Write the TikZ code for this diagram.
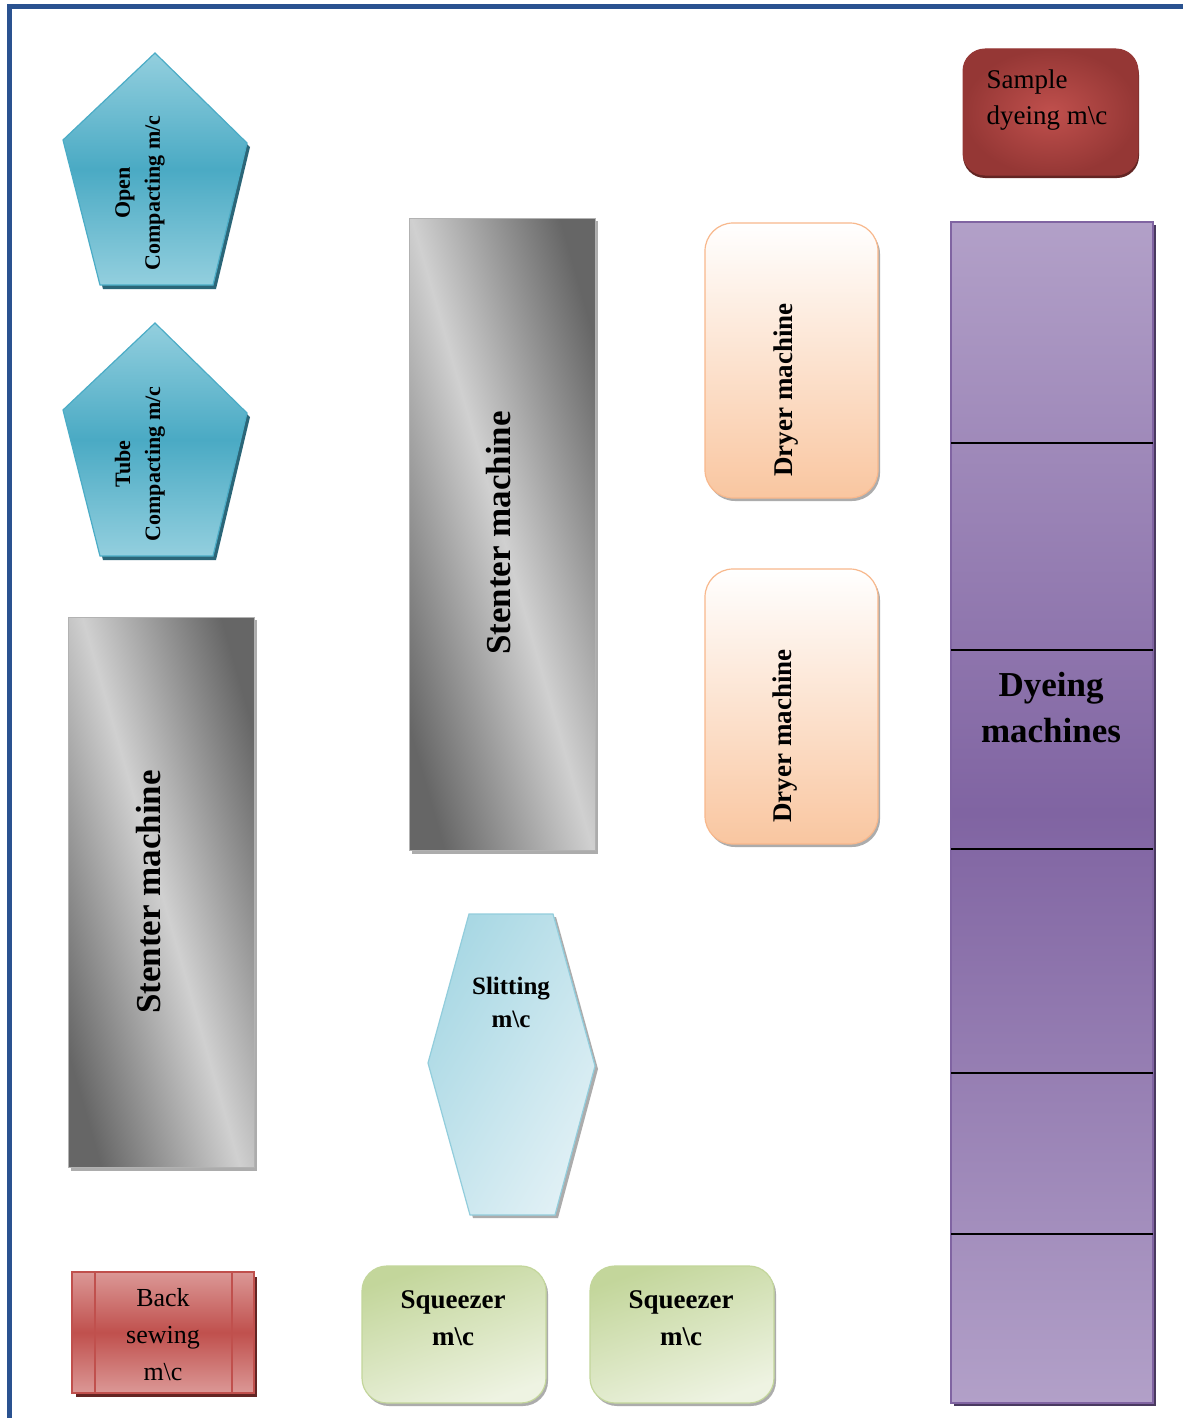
\documentclass[tikz,border=0pt]{standalone}
\usepackage{fontspec}
\setmainfont{Liberation Serif}
\definecolor{frameblue}{HTML}{2A5290}
\definecolor{tealA}{HTML}{93CFDE}
\definecolor{tealB}{HTML}{4AAAC4}
\definecolor{tealEdge}{HTML}{4BACC6}
\definecolor{tealShadow}{HTML}{2B6678}
\definecolor{peach}{HTML}{F9C6A0}
\definecolor{peachEdge}{HTML}{F8B88C}
\definecolor{redDark}{HTML}{953735}
\definecolor{redMid}{HTML}{C0504D}
\definecolor{redLight}{HTML}{DB9896}
\definecolor{redShadow}{HTML}{632523}
\definecolor{purpLight}{HTML}{B2A0C8}
\definecolor{purpDark}{HTML}{8064A2}
\definecolor{purpShadow}{HTML}{4A3A60}
\definecolor{iceA}{HTML}{A9D8E4}
\definecolor{iceB}{HTML}{E0F0F5}
\definecolor{iceEdge}{HTML}{92CDDC}
\definecolor{greenA}{HTML}{C3D69B}
\definecolor{greenB}{HTML}{EEF3E2}
\definecolor{steelDark}{HTML}{666666}
\definecolor{steelLight}{HTML}{D0D0D0}
\tikzset{
  frameline/.style={draw=frameblue, line width=4.5pt},
  pentbox/.style={draw=tealEdge, line width=1.2pt, top color=tealA, bottom color=tealA, middle color=tealB},
  pentshadow/.style={fill=tealShadow},
  steelbox/.style={draw=gray!60, line width=0.8pt, left color=steelDark, right color=steelDark, middle color=steelLight, shading angle=106},
  greyshadow/.style={fill=gray!65},
  dryerbox/.style={draw=peachEdge, line width=1.2pt, top color=white, bottom color=peach, rounded corners=28pt},
  samplebox/.style={draw=redDark, line width=1pt, inner color=redMid, outer color=redDark, rounded corners=22pt},
  redshadow/.style={fill=redShadow},
  dyebox/.style={draw=purpDark, line width=1.2pt, top color=purpLight, bottom color=purpLight, middle color=purpDark},
  purpshadow/.style={fill=purpShadow},
  slitbox/.style={draw=iceEdge, line width=1.2pt, left color=iceA, right color=iceB, shading angle=60},
  sewbox/.style={draw=redMid, line width=1.5pt, top color=redLight, bottom color=redLight, middle color=redMid},
  squeezebox/.style={draw=greenA, line width=1.2pt, top color=greenA, bottom color=greenB, shading angle=20, rounded corners=25pt},
  divider/.style={draw=black, line width=1.3pt},
  lbl/.style={align=center, inner sep=0pt, text=black},
}
\begin{document}
\begin{tikzpicture}[x=1pt,y=-1pt]
\useasboundingbox (0,0) rectangle (1183,1418);
\fill[white] (0,0) rectangle (1183,1418);
% frame
\draw[frameline] (9.5,1418) -- (9.5,6.5) -- (1183,6.5);

% Open compacting pentagon
\fill[pentshadow] (158,57) -- (250,147) -- (216,289) -- (103,289) -- (66,144) -- cycle;
\path[pentbox] (155,53) -- (247,143) -- (213,285) -- (100,285) -- (63,140) -- cycle;
\node[lbl, rotate=90, font=\bfseries\fontsize{22}{30}\selectfont] (oc) at (140,193) {Open\\Compacting m/c};

% Tube compacting pentagon
\fill[pentshadow] (158,327) -- (250,417) -- (216,560) -- (103,560) -- (66,414) -- cycle;
\path[pentbox] (155,323) -- (247,413) -- (213,556) -- (100,556) -- (63,410) -- cycle;
\node[lbl, rotate=90, font=\bfseries\fontsize{22}{30}\selectfont] (tc) at (140,464) {Tube\\Compacting m/c};

% Stenter left
\fill[greyshadow] (71,620) rectangle (257,1171);
\path[steelbox] (68,617) rectangle (254,1167);
\node[lbl, rotate=90, font=\bfseries\fontsize{35}{42}\selectfont] (st1) at (149,892) {Stenter machine};

% Stenter middle
\fill[greyshadow] (412,221) rectangle (598,854);
\path[steelbox] (409,218) rectangle (595,850);
\node[lbl, rotate=90, font=\bfseries\fontsize{35}{42}\selectfont] (st2) at (499,533) {Stenter machine};

% Dryers
\fill[greyshadow, rounded corners=28pt] (707,226) rectangle (880,501);
\path[dryerbox] (705,223) rectangle (878,498);
\node[lbl, rotate=90, font=\bfseries\fontsize{27}{32}\selectfont] (dr1) at (786,390) {Dryer machine};
\fill[greyshadow, rounded corners=28pt] (707,572) rectangle (880,847);
\path[dryerbox] (705,569) rectangle (878,844);
\node[lbl, rotate=90, font=\bfseries\fontsize{27}{32}\selectfont] (dr2) at (785,736) {Dryer machine};

% Sample dyeing
\fill[redshadow, rounded corners=22pt] (963,53) rectangle (1139,178);
\path[samplebox] (963,49) rectangle (1138,175);
\node[align=left, inner sep=0pt, font=\fontsize{27}{36}\selectfont] (sd) at (1047,100) {Sample\\dyeing m\textbackslash c};

% Dyeing machines
\fill[purpshadow] (954,225) rectangle (1156,1406);
\path[dyebox] (951,222) rectangle (1153,1403);
\foreach \yy in {443,650,849,1073,1234}{\draw[divider] (951,\yy) -- (1153,\yy);}
\node[lbl, font=\bfseries\fontsize{35}{46}\selectfont] (dm) at (1051,708) {Dyeing\\machines};

% Slitting
\fill[greyshadow] (472,917) -- (556,917) -- (598,1069) -- (558,1218) -- (473,1218) -- (431,1066) -- cycle;
\path[slitbox] (469,914) -- (553,914) -- (595,1066) -- (555,1215) -- (470,1215) -- (428,1063) -- cycle;
\node[lbl, font=\bfseries\fontsize{25}{33}\selectfont] (sl) at (511,1002) {Slitting\\m\textbackslash c};

% Back sewing
\fill[redshadow] (76,1277) rectangle (257,1397);
\path[sewbox] (72,1272) rectangle (254,1393);
\draw[redMid, line width=2pt] (95,1272) -- (95,1393);
\draw[redMid, line width=2pt] (232,1272) -- (232,1393);
\node[lbl, font=\fontsize{26}{37}\selectfont] (bs) at (163,1335) {Back\\sewing\\m\textbackslash c};

% Squeezers
\fill[greyshadow, rounded corners=25pt] (364,1269) rectangle (548,1406);
\path[squeezebox] (362,1266) rectangle (546,1403);
\node[lbl, font=\bfseries\fontsize{27}{37}\selectfont] (sq1) at (453,1318) {Squeezer\\m\textbackslash c};
\fill[greyshadow, rounded corners=25pt] (592,1269) rectangle (776,1406);
\path[squeezebox] (590,1266) rectangle (774,1403);
\node[lbl, font=\bfseries\fontsize{27}{37}\selectfont] (sq2) at (681,1318) {Squeezer\\m\textbackslash c};
\end{tikzpicture}
\end{document}
